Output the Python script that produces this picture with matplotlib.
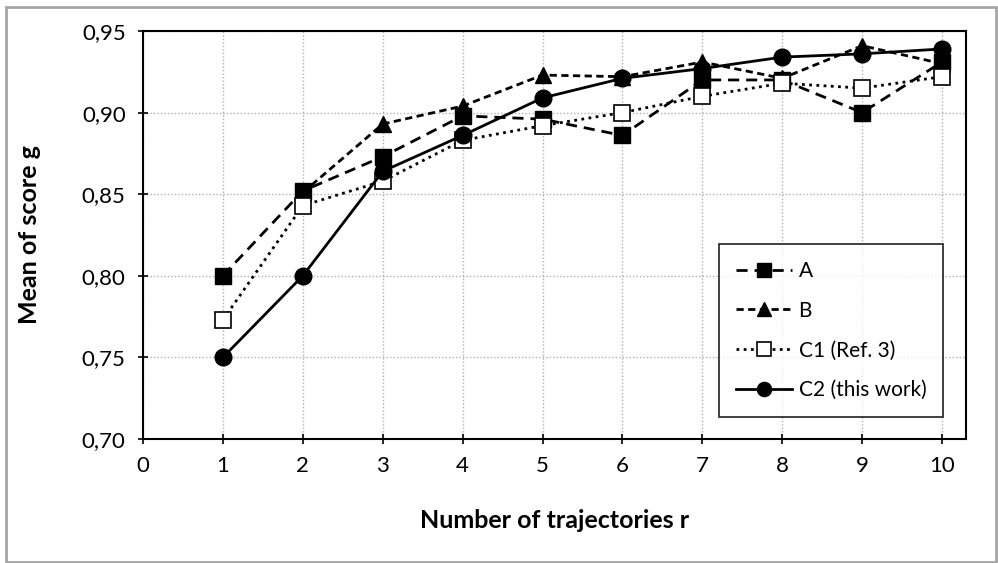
import matplotlib.pyplot as plt
from matplotlib.patches import Rectangle
from matplotlib.ticker import FuncFormatter

plt.rcParams['font.family'] = ['Lato', 'DejaVu Sans']

r = [1, 2, 3, 4, 5, 6, 7, 8, 9, 10]
rB = [2, 3, 4, 5, 6, 7, 8, 9, 10]
scoreA = [0.800, 0.852, 0.873, 0.898, 0.896, 0.886, 0.920, 0.920, 0.900, 0.931]
scoreB = [0.851, 0.893, 0.904, 0.923, 0.922, 0.931, 0.921, 0.941, 0.930]
scoreC1 = [0.773, 0.843, 0.858, 0.883, 0.892, 0.900, 0.910, 0.918, 0.915, 0.922]
scoreC2 = [0.750, 0.800, 0.864, 0.886, 0.909, 0.921, 0.927, 0.934, 0.936, 0.939]
labels = ['A', 'B', 'C1 (Ref. 3)', 'C2 (this work)']

W, H = 998, 563
fig = plt.figure(figsize=(W/100, H/100), dpi=100)
ax = fig.add_axes([143/W, 1-439/H, (966-143)/W, (439-31)/H])

# chart area border
fig.patches.append(Rectangle((6/W, 1-562/H), (996-6)/W, (562-7)/H, transform=fig.transFigure,
                             fill=False, edgecolor='#a6a6a6', linewidth=2))

ax.plot(r, scoreA, color='black', linestyle=(0, (4, 2.5)), linewidth=2,
        marker='s', markersize=12, markerfacecolor='black', label=labels[0])
ax.plot(rB, scoreB, color='black', linestyle=(0, (2.6, 1.6)), linewidth=2,
        marker='^', markersize=12, markerfacecolor='black', label=labels[1])
ax.plot(r, scoreC1, color='black', linestyle=(0, (1, 1.6)), linewidth=2,
        marker='s', markersize=12, markerfacecolor='white', markeredgewidth=1.2, label=labels[2])
ax.plot(r, scoreC2, color='black', linestyle='-', linewidth=2,
        marker='o', markersize=12, markerfacecolor='black', label=labels[3])

ax.set_xlim(0, 10.3)
ax.set_ylim(0.70, 0.95)
ax.set_xticks(range(0, 11))
ax.set_yticks([0.70, 0.75, 0.80, 0.85, 0.90, 0.95])
ax.yaxis.set_major_formatter(FuncFormatter(lambda v, p: f'{v:.2f}'.replace('.', ',')))
ax.tick_params(direction='inout', length=7, width=1.2, labelsize=16, pad=9)
ax.grid(True, color='#b0b0b0', linestyle=(0, (1, 1.5)), linewidth=1)
ax.set_axisbelow(True)
for s in ax.spines.values():
    s.set_linewidth(1.5)

ax.set_xlabel('Number of trajectories r', fontsize=18, fontweight='bold')
ax.set_ylabel('Mean of score g', fontsize=18, fontweight='bold')
ax.xaxis.set_label_coords(0.5, -(520-439)/(439-31), transform=ax.transAxes)
ax.yaxis.set_label_coords(-(143-30)/(966-143), 0.5, transform=ax.transAxes)
ax.xaxis.label.set_va('center')
ax.yaxis.label.set_va('center')

leg = ax.legend(loc='lower right', bbox_to_anchor=((943-143)/(966-143), (439-417)/(439-31)),
                borderaxespad=0, fontsize=15, frameon=True, fancybox=False, edgecolor='black',
                handlelength=2.7, labelspacing=0.95, borderpad=0.8, handletextpad=0.3,
                markerscale=0.85)
leg.get_frame().set_linewidth(1.3)

fig.savefig('out.png', dpi=100)
